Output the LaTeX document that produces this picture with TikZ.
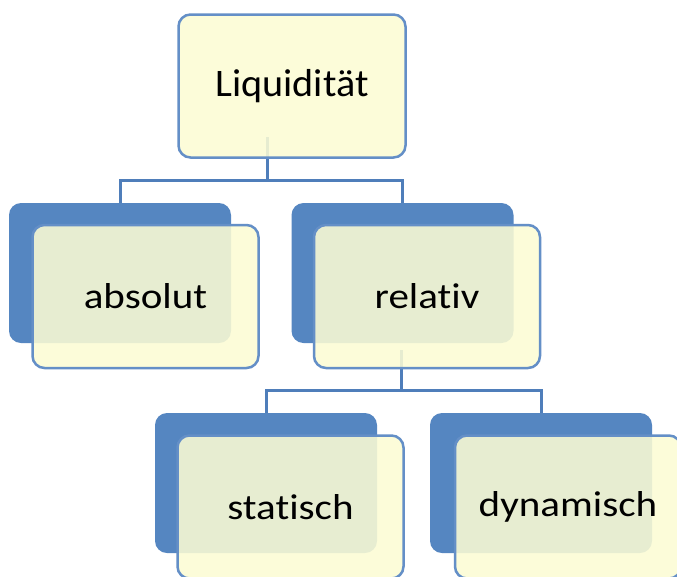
\documentclass[tikz,border=0pt]{standalone}
\usepackage{fontspec}
\usepackage{graphicx}
\setmainfont[Ligatures=NoCommon]{Carlito}
\usetikzlibrary{backgrounds}
\definecolor{backblue}{RGB}{85,134,193}
\definecolor{edgeblue}{RGB}{100,143,199}
\definecolor{lineblue}{RGB}{79,126,186}
\definecolor{paleyellow}{RGB}{252,252,212}
\tikzset{
  backbox/.style={fill=backblue, draw=none, rounded corners=12pt, minimum width=222pt, minimum height=140pt, inner sep=0pt},
  frontbox/.style={fill=paleyellow, fill opacity=0.88, text opacity=1, draw=edgeblue, draw opacity=1, line width=2.5pt, rounded corners=12pt, minimum width=226pt, minimum height=143pt, inner sep=0pt},
  conn/.style={draw=lineblue, line width=3pt}
}
\newcommand{\smalllbl}[1]{\scalebox{1.14}[1]{\fontsize{36}{40}\selectfont #1}}
\begin{document}
\begin{tikzpicture}[x=1pt,y=-1pt]
\useasboundingbox (0,0) rectangle (677,576);
% top
\node[frontbox, minimum width=227pt, minimum height=143pt] (top) at (292,86) {\scalebox{1.03}[1]{\fontsize{39}{42}\selectfont Liquidität}};
% level 2
\node[backbox] (absB) at (120,273) {};
\node[frontbox] (absF) at (145.5,296.5) {\smalllbl{absolut}};
\node[backbox] (relB) at (402.5,273) {};
\node[frontbox] (relF) at (427,296.5) {\smalllbl{relativ}};
% level 3
\node[backbox] (staB) at (266,483) {};
\node[frontbox] (staF) at (290.5,507) {\smalllbl{statisch}};
\node[backbox] (dynB) at (541,483) {};
\node[frontbox] (dynF) at (568,507) {\smalllbl{dynamisch}};
\begin{pgfonlayer}{background}
\fill[white] (0,0) rectangle (677,576);
\coordinate (t0) at (267,137);
\coordinate (t1) at (267,180);
\draw[conn] (t0) -- (t1) -| (absB.north);
\draw[conn] (t1) -| (relB.north);
\coordinate (r0) at (401,350);
\coordinate (r1) at (401,390);
\draw[conn] (r0) -- (r1) -| (staB.north);
\draw[conn] (r1) -| (dynB.north);
\end{pgfonlayer}
\end{tikzpicture}
\end{document}
